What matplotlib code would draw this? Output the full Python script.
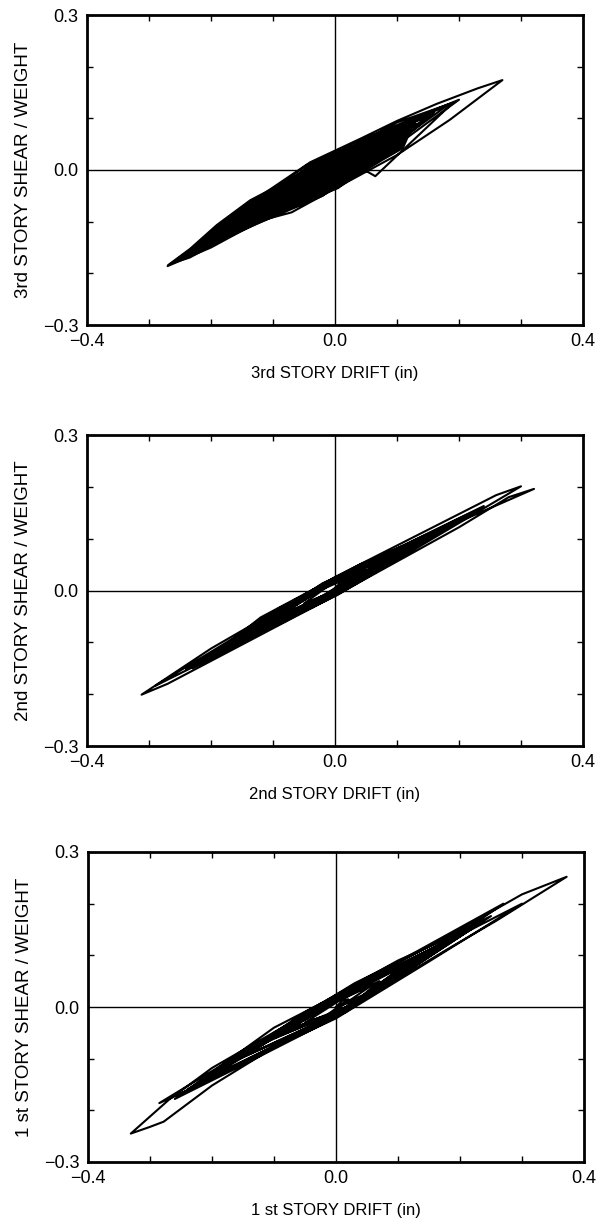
import matplotlib
matplotlib.use("Agg")
import matplotlib.pyplot as plt
from matplotlib.ticker import MultipleLocator, FixedLocator, FixedFormatter

plt.rcParams['font.family'] = ['Liberation Sans', 'DejaVu Sans']

# ---------------- 3rd story: traced response path ----------------
drift_3rd = [0.00, 0.030, 0.06, -0.015, -0.09, 0.005, 0.10, -0.020, -0.14, -0.030, 0.08,
             -0.045, -0.17, -0.025, 0.12, -0.040, -0.20, -0.025, 0.15, -0.005, -0.16,
             -0.030, 0.10, -0.060, -0.22, -0.020, 0.18, -0.045, -0.27,
             -0.20, -0.12, -0.07, 0.00, 0.10, 0.185, 0.27,
             0.23, 0.164, 0.10, 0.04, -0.04, -0.12, -0.19,
             0.005, 0.20, 0.025, -0.15, -0.010, 0.13, -0.025, -0.18, -0.035, 0.11,
             -0.005, -0.12, -0.025, 0.07, -0.030, -0.13, -0.020, 0.09, -0.005, -0.10,
             -0.025, 0.05, -0.015, -0.08, -0.020, 0.04, -0.010, -0.06, -0.020, 0.02,
             -0.005, -0.03, -0.015, 0.00,
             0.08, 0.16, 0.05, -0.05, 0.03, 0.065, 0.19, 0.10, 0.02, 0.14, 0.04, -0.02]
shear_3rd = [0.000, 0.002, 0.042, 0.010, -0.058, -0.020, 0.066, 0.012, -0.092, -0.045, 0.055,
             -0.002, -0.115, -0.048, 0.080, 0.008, -0.138, -0.050, 0.104, 0.028, -0.110,
             -0.050, 0.072, -0.010, -0.152, -0.050, 0.124, 0.010, -0.186,
             -0.150, -0.098, -0.082, -0.036, 0.029, 0.097, 0.174,
             0.158, 0.128, 0.095, 0.060, 0.015, -0.050, -0.126,
             -0.035, 0.136, 0.050, -0.100, -0.040, 0.090, 0.015, -0.122, -0.058, 0.078,
             0.026, -0.082, -0.045, 0.050, 0.008, -0.088, -0.044, 0.064, 0.022, -0.068,
             -0.042, 0.038, 0.012, -0.054, -0.036, 0.030, 0.012, -0.040, -0.032, 0.016,
             0.010, -0.020, -0.025, 0.000,
             0.030, 0.112, 0.060, -0.010, 0.012, -0.012, 0.130, 0.092, 0.040, 0.100, 0.040, 0.000]
# dense, fully overlapped core of the 3rd story loops (outline)
core_drift_3rd = [-0.270, -0.234, -0.191, -0.137, -0.083, -0.056, -0.040, -0.019, 0.000,
                  0.024, 0.051, 0.078, 0.110, 0.130, 0.110, 0.078, 0.051, 0.024, 0.000,
                  -0.024, -0.056, -0.083, -0.121, -0.160, -0.191, -0.234]
core_shear_3rd = [-0.184, -0.152, -0.106, -0.058, -0.024, -0.004, 0.012, 0.026, 0.037,
                  0.045, 0.057, 0.073, 0.091, 0.098, 0.042, 0.020, 0.000, -0.020, -0.034,
                  -0.045, -0.064, -0.082, -0.102, -0.124, -0.142, -0.170]

# ---------------- 2nd story ----------------
drift_2nd = [0.00, 0.04, 0.08, -0.010, -0.10, 0.020, 0.14, -0.005, -0.15, -0.025, 0.10,
             -0.050, -0.20, -0.010, 0.18, -0.030, -0.24, -0.010, 0.22, -0.035, -0.29,
             0.005, 0.30, 0.26, 0.00, -0.20, -0.312, -0.27, 0.00, 0.20, 0.28, 0.321,
             0.050, -0.22, 0.010, 0.24, 0.030, -0.18, -0.010, 0.16, 0.010, -0.14,
             -0.010, 0.12, -0.020, -0.16, -0.035, 0.09, 0.065, 0.13, 0.000, -0.13,
             -0.050, 0.04, -0.090, -0.23, -0.100, 0.02, 0.000, -0.09, -0.020, 0.05,
             0.000, -0.05, -0.015, 0.02, 0.010, 0.00,
             0.085, 0.17, 0.04, -0.12, -0.19, -0.07, 0.06, 0.11, 0.00, -0.08, -0.21,
             -0.11, 0.00, 0.05]
shear_2nd = [0.005, 0.026, 0.060, 0.012, -0.056, 0.012, 0.101, 0.020, -0.089, -0.016, 0.075,
             -0.010, -0.126, -0.010, 0.124, 0.004, -0.152, -0.012, 0.150, 0.002, -0.184,
             -0.008, 0.201, 0.184, 0.026, -0.112, -0.201, -0.180, -0.010, 0.122, 0.180, 0.196,
             0.054, -0.140, -0.002, 0.163, 0.040, -0.112, -0.010, 0.112, 0.030, -0.082,
             -0.008, 0.088, 0.014, -0.098, -0.032, 0.066, 0.035, 0.095, 0.022, -0.072,
             -0.040, 0.034, -0.034, -0.150, -0.070, 0.015, 0.020, -0.050, -0.010, 0.040,
             0.018, -0.025, -0.008, 0.020, 0.016, 0.005,
             0.048, 0.118, 0.050, -0.052, -0.118, -0.052, 0.033, 0.080, 0.024, -0.028, -0.131,
             -0.076, -0.008, 0.026]

# ---------------- 1st story ----------------
drift_1st = [0.00, 0.035, 0.07, -0.005, -0.08, 0.020, 0.12, 0.000, -0.12, 0.025, 0.17,
             -0.005, -0.18, 0.015, 0.21, -0.015, -0.24, 0.015, 0.27, -0.005, -0.285,
             -0.20, 0.00, 0.18, 0.26, 0.372,
             0.30, 0.20, 0.00, -0.20, -0.27, -0.331,
             -0.300, -0.278, -0.20, -0.10, 0.00, 0.15, 0.30,
             0.025, -0.25, -0.015, 0.22, 0.010, -0.20, -0.020, 0.16, 0.005, -0.15,
             -0.020, 0.13, -0.020, -0.17, 0.010, 0.19, 0.000, -0.22, 0.015, 0.25,
             0.030, -0.10, 0.000, 0.11, 0.005, -0.10, -0.020, 0.06, 0.005, -0.05,
             -0.015, 0.02, 0.010, 0.00,
             0.08, 0.23, 0.10, -0.05, -0.22, -0.10, 0.05, 0.15, 0.03, -0.10, -0.26,
             -0.15, 0.00, 0.02]
shear_1st = [0.000, 0.014, 0.050, 0.008, -0.046, 0.002, 0.088, 0.014, -0.072, 0.004, 0.120,
             0.014, -0.114, -0.006, 0.148, 0.008, -0.160, -0.010, 0.200, 0.018, -0.186,
             -0.140, -0.018, 0.112, 0.168, 0.252,
             0.218, 0.150, 0.020, -0.118, -0.180, -0.245,
             -0.232, -0.222, -0.152, -0.078, -0.022, 0.088, 0.200,
             0.032, -0.168, -0.026, 0.152, 0.022, -0.134, -0.028, 0.112, 0.018, -0.096,
             -0.030, 0.094, 0.004, -0.108, -0.008, 0.135, 0.020, -0.146, -0.010, 0.176,
             0.046, -0.050, -0.016, 0.080, 0.015, -0.060, -0.022, 0.044, 0.012, -0.030,
             -0.016, 0.015, 0.012, 0.000,
             0.042, 0.160, 0.090, -0.010, -0.148, -0.076, 0.020, 0.106, 0.040, -0.040, -0.178,
             -0.112, -0.020, 0.000]

panels = [
    (drift_3rd, shear_3rd, core_drift_3rd, core_shear_3rd,
     "3rd STORY DRIFT (in)", "3rd STORY SHEAR / WEIGHT"),
    (drift_2nd, shear_2nd, None, None,
     "2nd STORY DRIFT (in)", "2nd STORY SHEAR / WEIGHT"),
    (drift_1st, shear_1st, None, None,
     "1 st STORY DRIFT (in)", "1 st STORY SHEAR / WEIGHT"),
]

x_major = [-0.4, 0.0, 0.4]
x_major_labels = ["\u22120.4", "0.0", "0.4"]
y_major = [-0.3, 0.0, 0.3]
y_major_labels = ["\u22120.3", "0.0", "0.3"]

fig = plt.figure(figsize=(6.0, 12.24), dpi=100)
W, H = 600.0, 1224.0
axes_px = [(87, 15, 583, 325), (87, 435, 583, 746), (88, 852, 584, 1162)]

for (dx, sh, cdx, csh, xl, yl), (l, t, r, b) in zip(panels, axes_px):
    ax = fig.add_axes([l / W, 1 - b / H, (r - l) / W, (b - t) / H])
    ax.set_xlim(-0.4, 0.4)
    ax.set_ylim(-0.3, 0.3)
    ax.axhline(0, color="black", lw=1.0, zorder=1)
    ax.axvline(0, color="black", lw=1.0, zorder=1)
    if cdx is not None:
        ax.fill(cdx, csh, color="black", lw=1.0, zorder=2)
    ax.plot(dx, sh, color="black", lw=1.5, solid_joinstyle="round", zorder=3)
    ax.xaxis.set_major_locator(FixedLocator(x_major))
    ax.xaxis.set_major_formatter(FixedFormatter(x_major_labels))
    ax.yaxis.set_major_locator(FixedLocator(y_major))
    ax.yaxis.set_major_formatter(FixedFormatter(y_major_labels))
    ax.xaxis.set_minor_locator(MultipleLocator(0.1))
    ax.yaxis.set_minor_locator(MultipleLocator(0.1))
    ax.tick_params(which="both", direction="in", top=True, right=True,
                   width=1.0, color="black")
    ax.tick_params(which="major", length=0, labelsize=13, pad=6)
    ax.tick_params(which="minor", length=4)
    for s in ax.spines.values():
        s.set_linewidth(2.0)
    ax.set_xlabel(xl, fontsize=12, labelpad=11)
    ax.set_ylabel(yl, fontsize=13.5, labelpad=8)

fig.savefig("out.png", dpi=100, facecolor="white")
